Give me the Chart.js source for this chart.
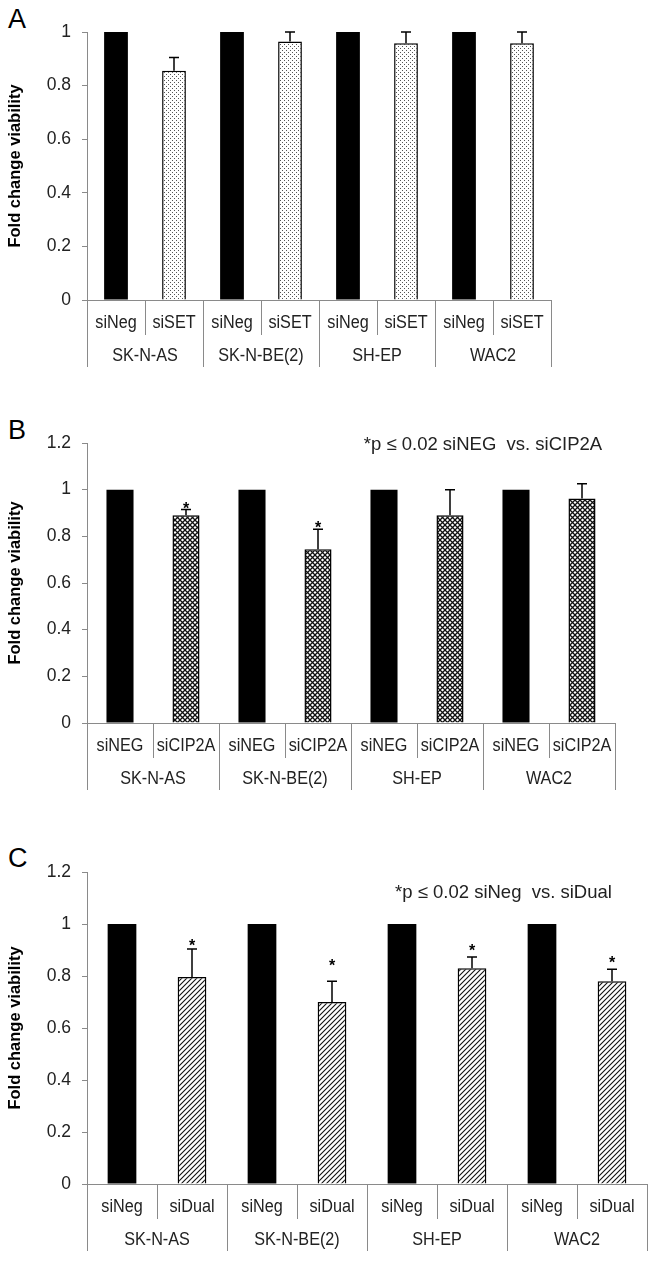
<!DOCTYPE html>
<html><head><meta charset="utf-8">
<script src="https://cdn.jsdelivr.net/npm/chart.js@4.4.0/dist/chart.umd.min.js"></script>
<style>
body{margin:0;background:#fff;width:657px;height:1261px;position:relative;overflow:hidden;font-family:"Liberation Sans",Arial,sans-serif}
.box{position:absolute;left:0;width:657px}
.tag{position:absolute;left:8px;font-size:27px;color:#000;line-height:1}
</style></head><body>
<div class="tag" style="top:6px">A</div>
<div class="tag" style="top:417px">B</div>
<div class="tag" style="top:845px">C</div>
<div class="box" style="top:0;height:400px"><canvas id="cA"></canvas></div>
<div class="box" style="top:400px;height:420px"><canvas id="cB"></canvas></div>
<div class="box" style="top:820px;height:441px"><canvas id="cC"></canvas></div>
<script>
const groups = ['SK-N-AS', 'SK-N-BE(2)', 'SH-EP', 'WAC2'];

const aLabels = ['siNeg','siSET','siNeg','siSET','siNeg','siSET','siNeg','siSET'];
const aValues = [1, 0.855, 1, 0.965, 1, 0.958, 1, 0.958];
const aErr    = [0, 0.05, 0, 0.035, 0, 0.042, 0, 0.042];

const bLabels = ['siNEG','siCIP2A','siNEG','siCIP2A','siNEG','siCIP2A','siNEG','siCIP2A'];
const bValues = [1, 0.89, 1, 0.745, 1, 0.89, 1, 0.962];
const bErr    = [0, 0.025, 0, 0.085, 0, 0.11, 0, 0.063];
const bStars  = [null, 0.936, null, 0.852, null, null, null, null];
const bNote = '*p \u2264 0.02 siNEG  vs. siCIP2A';

const cLabels = ['siNeg','siDual','siNeg','siDual','siNeg','siDual','siNeg','siDual'];
const cValues = [1, 0.796, 1, 0.70, 1, 0.83, 1, 0.78];
const cErr    = [0, 0.108, 0, 0.08, 0, 0.043, 0, 0.046];
const cStars  = [null, 0.93, null, 0.855, null, 0.912, null, 0.865];
const cNote = '*p \u2264 0.02 siNeg  vs. siDual';

const FONT = '"Liberation Sans", Arial, sans-serif';

function pattern(kind){
  const c = document.createElement('canvas');
  const g = c.getContext('2d');
  if(kind==='dots'){
    c.width = 4; c.height = 4;
    g.fillStyle='#fff'; g.fillRect(0,0,4,4);
    g.fillStyle='#555'; g.fillRect(0,0,1,1); g.fillRect(2,2,1,1);
  } else if(kind==='cross'){
    c.width = 5; c.height = 5;
    g.fillStyle='#fff'; g.fillRect(0,0,5,5);
    g.strokeStyle='#111'; g.lineWidth=1.3;
    g.beginPath(); g.moveTo(0,0); g.lineTo(5,5); g.moveTo(5,0); g.lineTo(0,5); g.stroke();
  } else {
    c.width = 5; c.height = 5;
    g.fillStyle='#fff'; g.fillRect(0,0,5,5);
    g.strokeStyle='#111'; g.lineWidth=1.1;
    g.beginPath(); g.moveTo(-1,6); g.lineTo(6,-1); g.moveTo(-1,1); g.lineTo(1,-1); g.moveTo(4,6); g.lineTo(6,4); g.stroke();
  }
  return g.createPattern(c,'repeat');
}

// narrow text, like the squeezed labels of the figure
function narrowText(ctx, t, cx, cy){
  ctx.save();
  ctx.translate(cx, cy);
  ctx.scale(0.9, 1);
  ctx.fillText(t, 0, 0);
  ctx.restore();
}

const extras = {
  id:'extras',
  afterDatasetsDraw(chart, args, o){
    const {ctx, scales:{x,y}} = chart;
    const meta = chart.getDatasetMeta(0);
    ctx.save();
    ctx.strokeStyle='#000'; ctx.lineWidth=1.5;
    o.vals.forEach((v,i)=>{
      if(!o.err[i]) return;
      const px = meta.data[i].x;
      const top = y.getPixelForValue(v + o.err[i]);
      const base = y.getPixelForValue(v);
      ctx.beginPath();
      ctx.moveTo(px, base); ctx.lineTo(px, top);
      ctx.moveTo(px-5, top); ctx.lineTo(px+5, top);
      ctx.stroke();
    });
    if(o.stars){
      ctx.fillStyle='#000'; ctx.font='bold 16px '+FONT; ctx.textAlign='center'; ctx.textBaseline='alphabetic';
      o.stars.forEach((s,i)=>{
        if(s==null) return;
        ctx.fillText('*', meta.data[i].x, y.getPixelForValue(s)+9);
      });
    }
    if(o.note){
      ctx.fillStyle='#222'; ctx.font='18.5px '+FONT; ctx.textAlign='center'; ctx.textBaseline='middle';
      ctx.fillText(o.note, x.getPixelForValue(o.noteX), y.getPixelForValue(o.noteY));
    }
    // two-level category axis
    const w = x.getPixelForValue(1) - x.getPixelForValue(0);
    const b = y.getPixelForValue(0);
    ctx.strokeStyle='#8a8a8a'; ctx.lineWidth=1;
    for(let i=0;i<=8;i++){
      const px = Math.round(x.getPixelForValue(0) - w/2 + i*w) + 0.5;
      ctx.beginPath(); ctx.moveTo(px, b); ctx.lineTo(px, b + (i%2===0 ? 67 : 35)); ctx.stroke();
    }
    ctx.fillStyle='#222'; ctx.font='18px '+FONT; ctx.textAlign='center'; ctx.textBaseline='middle';
    chart.data.labels.forEach((l,i)=>narrowText(ctx, l, x.getPixelForValue(i), b+23));
    groups.forEach((g,k)=>{
      const cx = (x.getPixelForValue(2*k) + x.getPixelForValue(2*k+1))/2;
      narrowText(ctx, g, cx, b+56);
    });
    ctx.restore();
  }
};

function make(id, labels, vals, err, fill, cfg){
  const canvas = document.getElementById(id);
  const H = canvas.parentNode.clientHeight;
  const pat = pattern(fill);
  new Chart(canvas, {
    type:'bar',
    data:{labels, datasets:[{
      data: vals,
      backgroundColor: vals.map((v,i)=> i%2===0 ? '#000' : pat),
      borderColor:'#000',
      borderWidth: vals.map((v,i)=> i%2===0 ? 0 : 1.5),
      barPercentage:0.41, categoryPercentage:1
    }]},
    options:{
      responsive:true, maintainAspectRatio:false, animation:false,
      layout:{padding:{top:cfg.top, right:657-cfg.right, left:0, bottom:0}},
      plugins:{legend:{display:false}, tooltip:{enabled:false},
        extras:{vals, err, stars:cfg.stars, note:cfg.note, noteX:cfg.noteX, noteY:cfg.noteY}},
      scales:{
        x:{
          ticks:{display:false},
          grid:{display:false},
          border:{display:true, color:'#8a8a8a', width:1},
          afterFit: s => { s.height = H - cfg.bottom; }
        },
        y:{
          min:0, max:cfg.max,
          ticks:{stepSize:0.2, color:'#222', font:{size:17.5, family:FONT}, padding:11,
            callback: v => String(+v.toFixed(1))},
          grid:{drawOnChartArea:false, drawTicks:true, tickLength:5, color:'#8a8a8a'},
          border:{display:true, color:'#8a8a8a', width:1},
          title:{display:true, text:'Fold change viability', color:'#000',
            font:{size:16.5, weight:'bold', family:FONT}, padding:{top:6, bottom:0}},
          afterFit: s => { s.width = 87; }
        }
      }
    },
    plugins:[extras]
  });
}

make('cA', aLabels, aValues, aErr, 'dots', {top:32, bottom:300, right:551, max:1});
make('cB', bLabels, bValues, bErr, 'cross', {top:43, bottom:323, right:615, max:1.2,
  stars:bStars, note:bNote, noteX:5.5, noteY:1.19});
make('cC', cLabels, cValues, cErr, 'hatch', {top:52, bottom:364, right:647, max:1.2,
  stars:cStars, note:cNote, noteX:5.45, noteY:1.12});
</script>
</body></html>
